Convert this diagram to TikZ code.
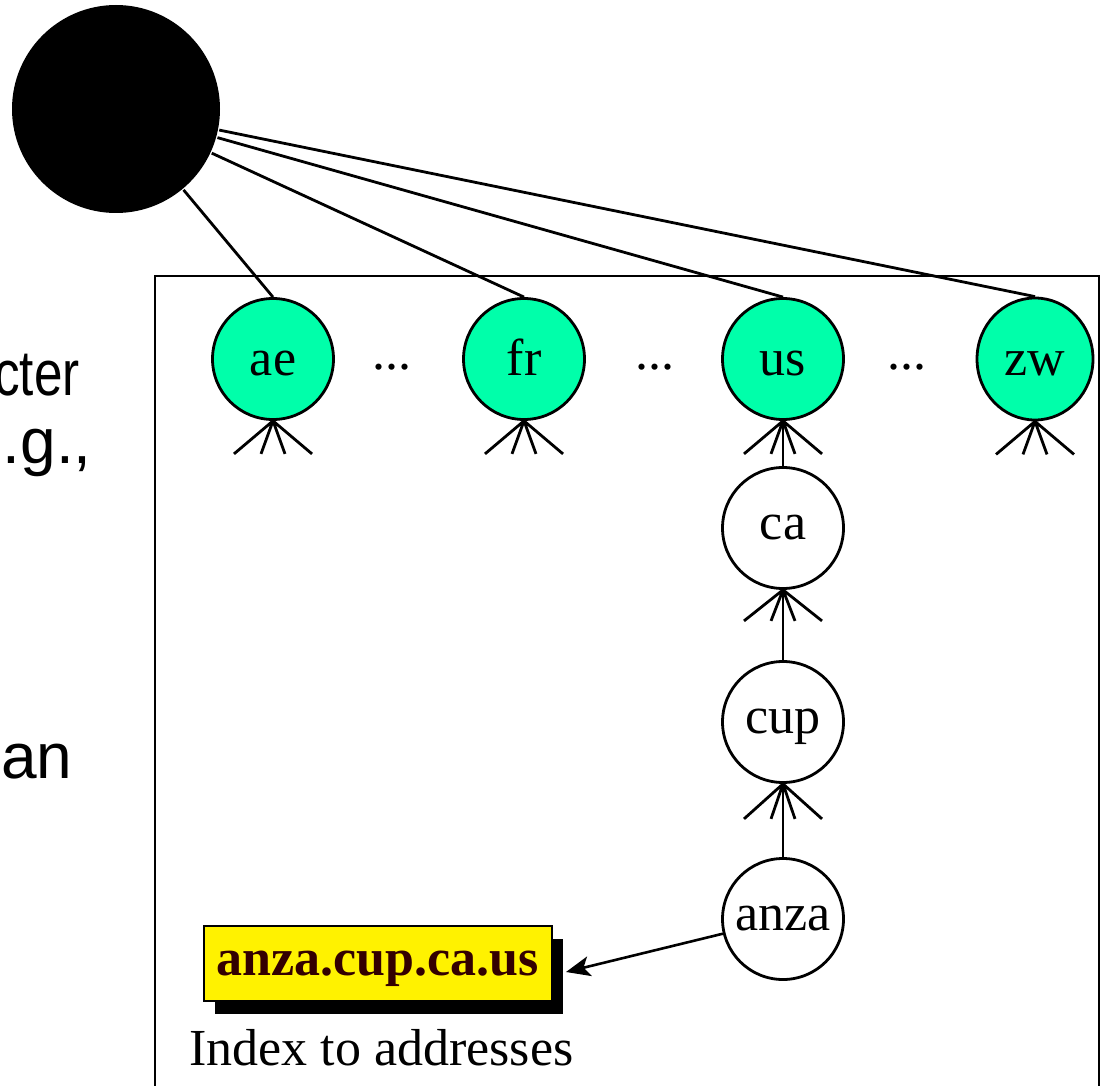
\documentclass[tikz,border=0pt]{standalone}
\usepackage{fontspec}
\setmainfont{Liberation Serif}
\newfontfamily\slidesans{Liberation Sans}
\usetikzlibrary{shapes.geometric,shadows,arrows.meta}
\definecolor{tldgreen}{RGB}{0,255,170}
\definecolor{addrtext}{RGB}{51,0,0}
\begin{document}
\begin{tikzpicture}[x=0.5pt,y=-0.5pt,
  line width=1.4pt,
  dom/.style={draw, line width=1.4pt, inner sep=0pt, font=\fontsize{26}{26}\selectfont},
  tld/.style={dom, circle, minimum size=60.5pt, fill=tldgreen, text height=18pt, text depth=2pt},
  tldoval/.style={dom, ellipse, minimum width=58pt, minimum height=61pt, fill=tldgreen, text height=18pt, text depth=2pt},
  sub/.style={dom, circle, minimum size=60.5pt, fill=white, text height=13pt, text depth=2pt},
  rootdot/.style={circle, fill=black, minimum size=104pt, inner sep=0pt},
  dots/.style={inner sep=0pt, anchor=base, font=\fontsize{26}{26}\selectfont},
  slide/.style={inner sep=0pt, font=\slidesans\fontsize{32}{32}\selectfont},
  addr/.style={draw, line width=0.8pt, fill=yellow, text=addrtext,
    font=\bfseries\fontsize{26}{26}\selectfont, inner xsep=6.5pt, inner ysep=0pt,
    text height=24.5pt, text depth=13pt,
    drop shadow={shadow xshift=5.5pt, shadow yshift=-6.5pt, fill=black, opacity=1}},
  caption/.style={inner sep=0pt, anchor=base west, font=\fontsize{26}{26}\selectfont},
  frame/.style={line width=1pt},
  link/.style={line width=1.4pt},
  pointer/.style={line width=1.3pt, -{Stealth[length=12pt,width=10pt,inset=3pt]}}
]
\useasboundingbox (0,0) rectangle (1101,1085);
\clip (0,0) rectangle (1101,1085);

% clipped slide text on the left
\node[slide, anchor=base east] (w1) at (81,395) {\scalebox{0.8}[1]{cter}};
\node[slide, anchor=base east] (w2) at (93,463) {.g.,};
\node[slide, anchor=base west] (w3) at (0,778) {an};

% frame
\draw[frame] (155,1090) -- (155,276) -- (1099,276) -- (1099,1090);

% nodes
\node[rootdot] (root) at (116,109) {};
\node[tld] (ae) at (273,359) {ae};
\node[tld] (fr) at (524,359) {fr};
\node[tld] (us) at (783,359) {us};
\node[tldoval] (zw) at (1035,359) {zw};
\node[sub] (ca) at (783,528) {ca};
\node[sub] (cup) at (783,722) {cup};
\node[sub] (anza) at (783,919) {anza};

\node[dots] (d1) at (392,369) {...};
\node[dots] (d2) at (655,369) {...};
\node[dots] (d3) at (907,369) {...};

\node[addr, anchor=base west] (addr) at (203,975) {anza.cup.ca.us};
\node[caption] (cap) at (188,1065) {Index to addresses};

% root links
\foreach \n in {ae,fr,us,zw} \draw[link] (root) -- (\n.north);

% crow's feet
\foreach \n/\len in {ae/33,fr/33,us/33,zw/33,ca/31,cup/35}
  \draw[link] (\n.south) -- ++(-39,\len) (\n.south) -- ++(-12,\len)
              (\n.south) -- ++(12,\len) (\n.south) -- ++(39,\len);

% chain
\draw[link] (ca) -- (us);
\draw[link] (cup) -- (ca);
\draw[link] (anza) -- (cup);

% pointer to address
\coordinate (tip) at (566,972);
\draw[pointer] (anza) -- (tip);
\end{tikzpicture}
\end{document}
